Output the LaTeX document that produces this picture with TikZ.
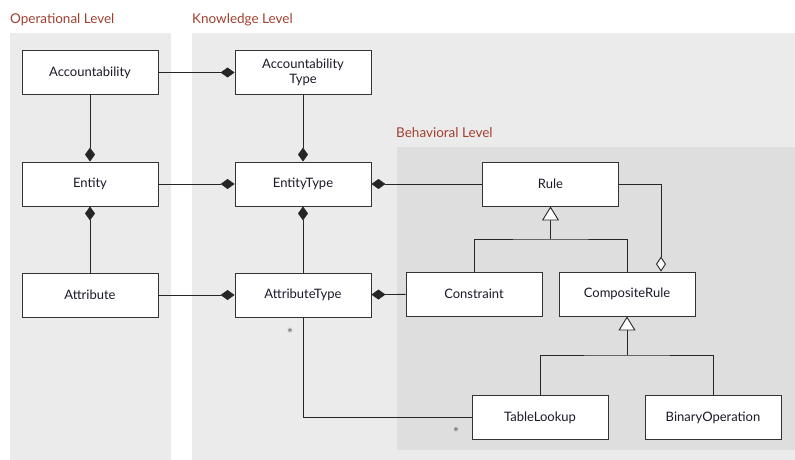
\documentclass[tikz,border=0pt]{standalone}
\usepackage{fontspec}
\setmainfont{Lato}
\usetikzlibrary{arrows.meta}
\definecolor{panelgray}{HTML}{EBEBEB}
\definecolor{innergray}{HTML}{DEDEDE}
\definecolor{levelred}{HTML}{A0402F}
\definecolor{inkblue}{HTML}{1A1A2A}
\begin{document}
\begin{tikzpicture}[x=1pt,y=-1pt,
  cls/.style={draw=black!80,fill=white,line width=0.9pt,minimum width=136pt,minimum height=44pt,
    align=center,font=\fontsize{13}{14.5}\selectfont,text=inkblue,inner sep=0pt},
  level/.style={anchor=base west,font=\fontsize{13.5}{15}\selectfont,text=levelred,inner sep=0pt},
  link/.style={draw=black!85,line width=0.9pt},
  comp/.style={link,-{Diamond[length=14pt,width=10pt]}},
  aggr/.style={link,-{Diamond[open,length=15pt,width=10pt,fill=white]}},
  gen/.style={link,-{Triangle[open,length=14pt,width=17pt,fill=white]}},
  mult/.style={font=\fontsize{15}{16}\selectfont,text=black!60,inner sep=0pt}]
\useasboundingbox (0,0) rectangle (795,460);
% level panels
\fill[panelgray] (10,33) rectangle (171,460);
\fill[panelgray] (192,33) rectangle (795,460);
\fill[innergray] (397,147) rectangle (795,450);
\node[level] (oplabel) at (10,24) {Operational Level};
\node[level] (knlabel) at (192,24) {Knowledge Level};
\node[level] (bhlabel) at (396,137) {Behavioral Level};
% classes
\node[cls] (acc)  at (90,72.5)  {Accountability};
\node[cls] (acct) at (303,72.5) {Accountability\\Type};
\node[cls] (ent)  at (90,184)   {Entity};
\node[cls] (entt) at (303,184)  {EntityType};
\node[cls] (att)  at (90,295)   {Attribute};
\node[cls] (attt) at (303,295)  {AttributeType};
\node[cls] (rule) at (550.5,184) {Rule};
\node[cls] (con)  at (474,294)  {Constraint};
\node[cls] (crule) at (627,294) {CompositeRule};
\node[cls] (tlk)  at (540,417.5) {TableLookup};
\node[cls] (bop)  at (713,417.5) {BinaryOperation};
% composition links
\draw[comp] (acc) -- (acct);
\draw[comp] (acc) -- (ent);
\draw[comp] (acct) -- (entt);
\draw[comp] (ent) -- (entt);
\draw[comp] (att) -- (ent);
\draw[comp] (attt) -- (entt);
\draw[comp] (att) -- (attt);
\draw[comp] (rule) -- (entt);
\draw[comp] (con) -- (attt);
% aggregation of rules
\draw[aggr] (rule.east) -| (crule.north -| 661,0);
% generalizations
\coordinate (g1) at (550.5,239);
\coordinate (g2) at (627,355);
\draw[gen] (g1) -- (rule.south);
\draw[link] (con.north) |- (g1) -| (crule.north);
\draw[gen] (g2) -- (crule.south);
\draw[link] (tlk.north) |- (g2) -| (bop.north);
% lookup association
\draw[link] (attt.south) |- (tlk.west);
\node[mult] (m1) at (290,334) {*};
\node[mult] (m2) at (456,433) {*};
\end{tikzpicture}
\end{document}
